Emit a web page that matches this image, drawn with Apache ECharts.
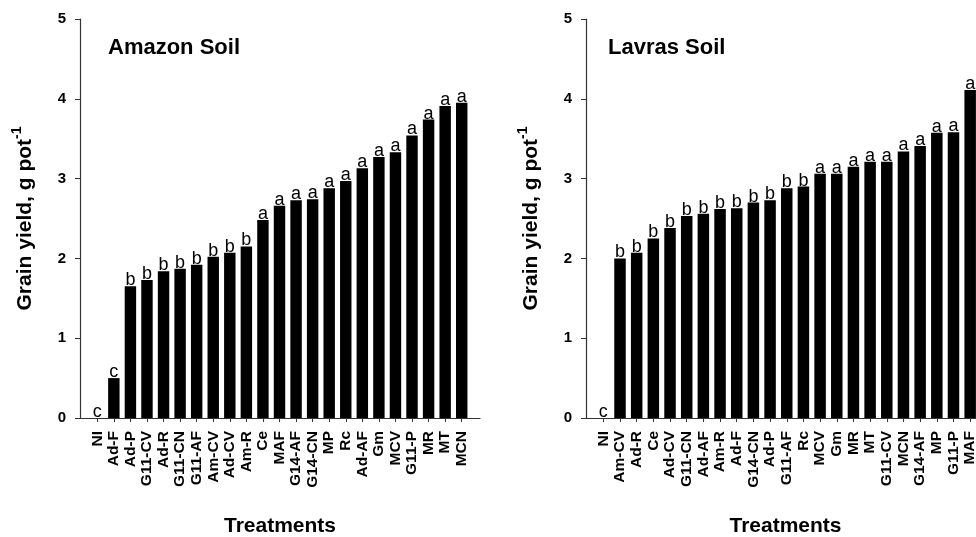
<!DOCTYPE html>
<html>
<head>
<meta charset="utf-8">
<script src="https://cdn.jsdelivr.net/npm/echarts@6/dist/echarts.min.js"></script>
<style>html,body{margin:0;padding:0;background:#fff}#c{width:976px;height:537px}</style>
</head>
<body>
<div id="c"></div>
<script>
// ---- Data ----
const amazonCats = ['NI','Ad-F','Ad-P','G11-CV','Ad-R','G11-CN','G11-AF','Am-CV','Ad-CV','Am-R','Ce','MAF','G14-AF','G14-CN','MP','Rc','Ad-AF','Gm','MCV','G11-P','MR','MT','MCN'];
const amazonVals = [0,0.50,1.65,1.73,1.84,1.87,1.92,2.02,2.07,2.15,2.48,2.66,2.73,2.74,2.88,2.97,3.13,3.27,3.33,3.54,3.74,3.91,3.95];
const amazonLetters = ['c','c','b','b','b','b','b','b','b','b','a','a','a','a','a','a','a','a','a','a','a','a','a'];

const lavrasCats = ['NI','Am-CV','Ad-R','Ce','Ad-CV','G11-CN','Ad-AF','Am-R','Ad-F','G14-CN','Ad-P','G11-AF','Rc','MCV','Gm','MR','MT','G11-CV','MCN','G14-AF','MP','G11-P','MAF'];
const lavrasVals = [0,2.00,2.07,2.25,2.38,2.53,2.56,2.62,2.63,2.70,2.73,2.88,2.90,3.06,3.06,3.15,3.21,3.21,3.34,3.41,3.575,3.58,4.11];
const lavrasLetters = ['c','b','b','b','b','b','b','b','b','b','b','b','b','a','a','a','a','a','a','a','a','a','a'];

const yTicks = [0,1,2,3,4,5];
const panelTitles = ['Amazon Soil','Lavras Soil'];
const xTitle = 'Treatments';

// ---- Chart ----
const FONT = '"Liberation Sans", Arial, Helvetica, sans-serif';
const AX = '#333';
const chart = echarts.init(document.getElementById('c'), null, {renderer:'canvas'});

function frameX(gi){
  return {gridIndex:gi, type:'value', min:0, max:1,
    axisLine:{show:true, onZero:false, lineStyle:{color:AX, width:1.2}},
    axisTick:{show:false}, axisLabel:{show:false}, splitLine:{show:false},
    name:xTitle, nameLocation:'middle', nameGap:98,
    nameTextStyle:{fontFamily:FONT, fontWeight:'bold', fontSize:21, color:'#000'}};
}
function frameY(gi){
  return {gridIndex:gi, type:'value', min:yTicks[0], max:yTicks[yTicks.length-1], interval:1,
    axisLine:{show:true, lineStyle:{color:AX, width:1.2}},
    axisTick:{show:true, inside:false, length:5, lineStyle:{color:AX}},
    axisLabel:{fontFamily:FONT, fontWeight:'bold', fontSize:15, color:'#000', margin:14},
    splitLine:{show:false},
    name:'{t|Grain yield, g pot}{s|-1}', nameLocation:'middle', nameRotate:90, nameGap:44,
    nameTextStyle:{fontFamily:FONT, color:'#000',
      rich:{t:{fontFamily:FONT, fontWeight:'bold', fontSize:21, color:'#000', lineHeight:26, verticalAlign:'bottom'},
            s:{fontFamily:FONT, fontWeight:'bold', fontSize:14, color:'#000', lineHeight:26, verticalAlign:'top', padding:[0,0,9,0]}}}};
}
function catX(gi, cats){
  return {gridIndex:gi, type:'category', data:cats,
    axisLine:{show:false},
    axisTick:{show:true, alignWithLabel:true, length:4, lineStyle:{color:AX}},
    axisLabel:{rotate:90, interval:0, fontFamily:FONT, fontWeight:'bold', fontSize:15.5, color:'#000', margin:13}};
}
function hidY(gi){
  return {gridIndex:gi, type:'value', min:0, max:5, show:false};
}
function barSeries(xi, vals, letters){
  return {type:'bar', xAxisIndex:xi, yAxisIndex:xi, data:vals, barWidth:'69%',
    itemStyle:{color:'#000'},
    label:{show:true, position:'top', distance:-1, formatter:p=>letters[p.dataIndex],
      fontFamily:FONT, fontSize:18, color:'#000', lineHeight:14}};
}
const G = {top:19, bottom:119, containLabel:false, outerBoundsMode:'none'};

chart.setOption({
  animation:false,
  backgroundColor:'#fff',
  title:[
    {text:panelTitles[0], left:108, top:37, padding:0, textStyle:{fontFamily:FONT, fontWeight:'bold', fontSize:22, color:'#000'}},
    {text:panelTitles[1], left:608, top:37, padding:0, textStyle:{fontFamily:FONT, fontWeight:'bold', fontSize:22, color:'#000'}}
  ],
  grid:[
    Object.assign({left:80, right:496}, G),
    Object.assign({left:89, right:506}, G),
    Object.assign({left:586, right:-9}, G),
    Object.assign({left:595, right:-2.5}, G)
  ],
  xAxis:[frameX(0), catX(1, amazonCats), frameX(2), catX(3, lavrasCats)],
  yAxis:[frameY(0), hidY(1), frameY(2), hidY(3)],
  series:[
    barSeries(1, amazonVals, amazonLetters),
    barSeries(3, lavrasVals, lavrasLetters)
  ]
});
</script>
</body>
</html>
